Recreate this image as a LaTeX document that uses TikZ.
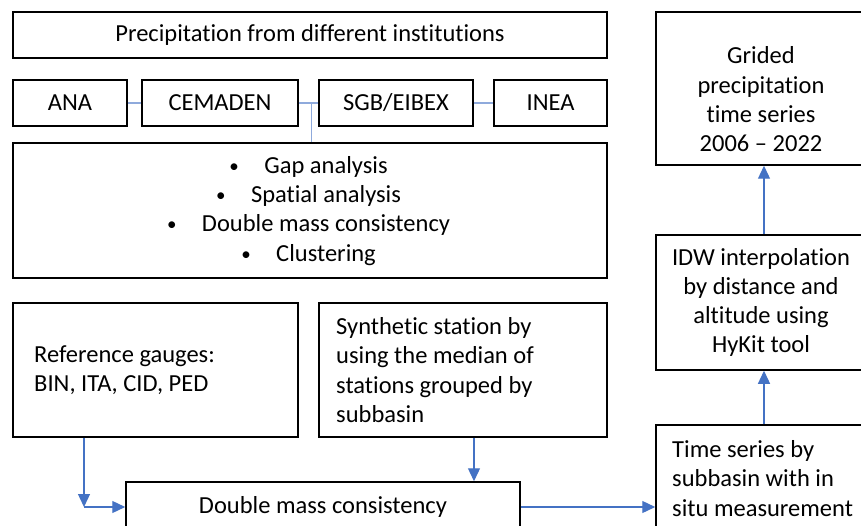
\documentclass[tikz,border=0pt]{standalone}
\usepackage{fontspec}
\setmainfont{Carlito}[Ligatures={NoCommon}]
\usetikzlibrary{arrows.meta}
\definecolor{lineblue}{HTML}{4472C4}
\definecolor{lightblue}{HTML}{8FAADC}
\begin{document}
\begin{tikzpicture}[x=1pt,y=-1pt,
  box/.style={draw=black, line width=1.5pt, rectangle, inner sep=0pt,
    font=\fontsize{24.5}{29.3}\selectfont},
  txt/.style={font=\fontsize{24.5}{29.3}\selectfont, inner sep=0pt},
  bul/.style={font=\fontsize{19}{20}\selectfont, inner sep=0pt},
  arr/.style={draw=lineblue, line width=1.3pt, -{Triangle[length=13pt,width=12pt]}},
  link/.style={draw=lightblue, line width=1.4pt}]
\useasboundingbox (0,0) rectangle (861,526);
\clip (0,0) rectangle (861,526);
% boxes
\node[box, minimum width=594pt, minimum height=46pt] (top) at (310,35) {Precipitation from different institutions};
\node[box, minimum width=114pt, minimum height=46pt] (ana) at (70,103) {ANA};
\node[box, minimum width=156pt, minimum height=46pt] (cem) at (220,103) {CEMADEN};
\node[box, minimum width=154pt, minimum height=46pt] (sgb) at (396,103) {SGB/EIBEX};
\node[box, minimum width=113pt, minimum height=46pt] (inea) at (550.5,103) {INEA};
\node[box, minimum width=594pt, minimum height=135pt] (qc) at (310,210.5) {};
\node[box, minimum width=285pt, minimum height=134pt] (ref) at (155.5,370) {};
\node[box, minimum width=288pt, minimum height=134pt] (syn) at (463,370) {};
\node[box, minimum width=394pt, minimum height=50pt] (dm) at (323,507) {Double mass consistency};
\node[box, minimum width=228pt, minimum height=108pt] (ts) at (770,479) {};
\node[box, minimum width=210pt, minimum height=135pt] (idw) at (761,302.5) {};
\node[box, minimum width=210pt, minimum height=153pt] (grid) at (761,88.5) {};
% texts
\node[txt, anchor=base] (b1) at (326,174) {Gap analysis};
\node[bul, anchor=base] at ([xshift=-30pt,yshift=1.5pt]b1.base west) {•};
\node[txt, anchor=base] (b2) at (326,203) {Spatial analysis};
\node[bul, anchor=base] at ([xshift=-30pt,yshift=1.5pt]b2.base west) {•};
\node[txt, anchor=base] (b3) at (326,232) {Double mass consistency};
\node[bul, anchor=base] at ([xshift=-30pt,yshift=1.5pt]b3.base west) {•};
\node[txt, anchor=base] (b4) at (326,262) {Clustering};
\node[bul, anchor=base] at ([xshift=-30pt,yshift=1.5pt]b4.base west) {•};
\node[txt, anchor=west, align=left] (reft) at (34,370.5) {Reference gauges:\\BIN, ITA, CID, PED};
\node[txt, anchor=west, align=left] (synt) at (336,370) {Synthetic station by\\using the median of\\stations grouped by\\subbasin};
\node[txt, anchor=west, align=left] (tst) at (672,478.5) {Time series by\\subbasin with in\\situ measurement};
\node[txt, align=center] (idwt) at (761,302.5) {IDW interpolation\\by distance and\\altitude using\\HyKit tool};
\node[txt, align=center] (gridt) at (761,99.5) {Grided\\precipitation\\ time series\\2006 – 2022};
% links
\draw[link] (ana) -- (cem);
\draw[link] (cem) -- (sgb);
\draw[link] (sgb) -- (inea);
\coordinate (j) at (311.5,103);
\draw[link] (j) -- (j |- qc.north);
% arrows
\coordinate (c1) at (84,507);
\draw[arr] (ref.south -| c1) -- (c1);
\draw[arr] (c1) -- (dm.west);
\coordinate (sx) at (474,0);
\draw[arr] (syn.south -| sx) -- (dm.north -| sx);
\draw[arr] (dm.east) -- (ts.west |- dm.east);
\coordinate (rx) at (764,0);
\draw[arr] (ts.north -| rx) -- (idw.south -| rx);
\draw[arr] (idw.north -| rx) -- (grid.south -| rx);
\end{tikzpicture}
\end{document}
